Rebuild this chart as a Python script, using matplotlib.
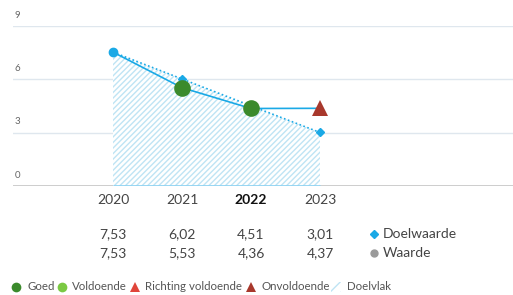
import matplotlib
matplotlib.use("Agg")
import matplotlib.pyplot as plt
from matplotlib.patches import Rectangle
import matplotlib.transforms as mtransforms

plt.rcParams['font.family'] = ['Lato', 'DejaVu Sans']
plt.rcParams['hatch.linewidth'] = 1.0
plt.rcParams['hatch.color'] = '#bfe4f4'

years = ['2020', '2021', '2022', '2023']
doelwaarde = [7.53, 6.02, 4.51, 3.01]
waarde = [7.53, 5.53, 4.36, 4.37]
doel_labels = ['7,53', '6,02', '4,51', '3,01']
waarde_labels = ['7,53', '5,53', '4,36', '4,37']
status = [None, 'Goed', 'Goed', 'Onvoldoende']
yticks = [0, 3, 6, 9]
legend_items = ['Goed', 'Voldoende', 'Richting voldoende', 'Onvoldoende', 'Doelvlak']

BLUE = '#1aa9e6'
LIGHTBLUE = '#8fd3f2'
GRID = '#dfe7ee'
TXT = '#444444'
status_style = {
    'Goed': dict(marker='o', color='#3b8a2c', ms=12),
    'Voldoende': dict(marker='o', color='#7bc943', ms=12),
    'Richting voldoende': dict(marker='^', color='#e0453a', ms=11),
    'Onvoldoende': dict(marker='^', color='#a8382c', ms=11),
}

W, H = 513, 295
fig = plt.figure(figsize=(W / 100, H / 100), dpi=100)
ax = fig.add_axes([13 / W, (H - 186) / H, 1 - 13 / W, 160 / H])
x = list(range(len(years)))
ax.set_xlim(-100 / 69, 400 / 69)
ax.set_ylim(0, 9)
for s in ax.spines.values():
    s.set_visible(False)
ax.set_xticks([])
ax.set_yticks(yticks)
ax.tick_params(left=False, labelleft=False)
for v in yticks[1:]:
    ax.axhline(v, color=GRID, lw=1, zorder=0)
ax.axhline(0, color='#c9c9c9', lw=2, zorder=0)
for v in yticks:
    ax.text(-1.43, v + 0.35, str(v), fontsize=7, color='#666666', ha='left', va='bottom')

# hatched target area
ax.fill_between(x, 0, doelwaarde, facecolor='white', edgecolor='#bfe4f4',
                hatch='//////', linewidth=0, zorder=1)
ax.plot([x[0], x[-1]], [0, 0], color=LIGHTBLUE, lw=2, zorder=2, solid_capstyle='butt')

# doelwaarde dotted line
ax.plot(x, doelwaarde, color=BLUE, lw=1.2, ls=(0, (1, 1.5)), zorder=3)
ax.plot(x, doelwaarde, ls='none', marker='D', ms=4.5, color=BLUE, zorder=4, clip_on=False)
# waarde line
ax.plot(x, waarde, color=BLUE, lw=1.2, zorder=3)
ax.plot(x[0], waarde[0], marker='o', ms=6, color=BLUE, zorder=5, clip_on=False)
for xi, yi, st in zip(x, waarde, status):
    if st:
        ax.plot(xi, yi, ls='none', zorder=6, clip_on=False, markeredgewidth=0,
                **{'marker': status_style[st]['marker'], 'color': status_style[st]['color'],
                   'ms': status_style[st]['ms']})

# table below
FS = 10
trans = mtransforms.blended_transform_factory(ax.transData, fig.transFigure)
for xi, yr in zip(x, years):
    ax.text(xi, (H - 200) / H, yr, transform=trans, ha='center', va='center',
            fontsize=FS, color='#111111' if yr == '2022' else TXT,
            fontweight='bold' if yr == '2022' else 'normal')
    ax.text(xi, (H - 234) / H, doel_labels[xi], transform=trans, ha='center', va='center',
            fontsize=FS, color=TXT)
    ax.text(xi, (H - 253) / H, waarde_labels[xi], transform=trans, ha='center', va='center',
            fontsize=FS, color=TXT)
fig.text(383 / W, (H - 234) / H, 'Doelwaarde', fontsize=FS, color=TXT, va='center')
fig.text(383 / W, (H - 253) / H, 'Waarde', fontsize=FS, color=TXT, va='center')
fig.lines.append(plt.Line2D([374 / W], [(H - 234) / H], marker='D', ms=4.5, color=BLUE,
                            transform=fig.transFigure))
fig.lines.append(plt.Line2D([374 / W], [(H - 253) / H], marker='o', ms=5, color='#9a9a9a',
                            transform=fig.transFigure))

# bottom legend
ly = (H - 287) / H
pos = [(16, 28), (62, 72), (135, 145), (251, 261), (336, 347)]
for (mx, tx), name in zip(pos, legend_items):
    if name in status_style:
        st = status_style[name]
        fig.lines.append(plt.Line2D([mx / W], [ly], marker=st['marker'], ms=7,
                                    color=st['color'], markeredgewidth=0,
                                    transform=fig.transFigure))
    else:
        fig.patches.append(Rectangle(((mx - 5) / W, ly - 5 / H), 10 / W, 10 / H,
                                     transform=fig.transFigure, facecolor='white',
                                     edgecolor='#bfe4f4', hatch='///', linewidth=0))
    fig.text(tx / W, ly, name, fontsize=8.3, color='#555555', va='center')

fig.savefig('out.png', dpi=100)
